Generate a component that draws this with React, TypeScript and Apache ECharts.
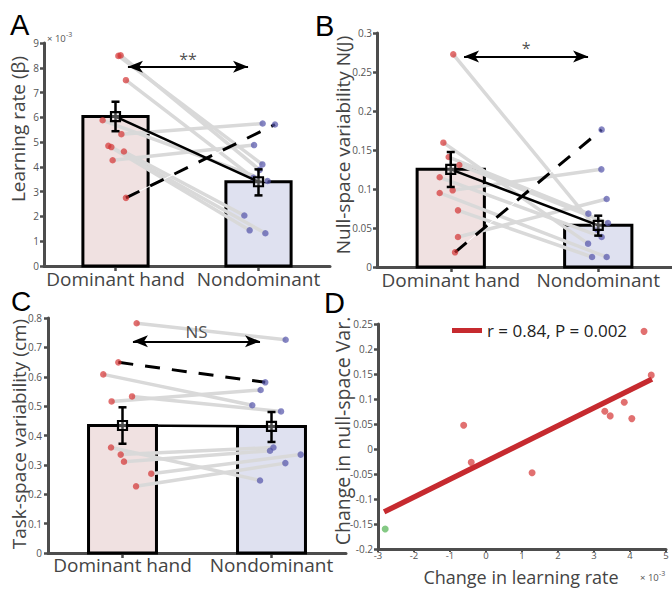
import React, { useEffect, useRef } from 'react';
import * as echarts from 'echarts';

const categories = ['Dominant hand', 'Nondominant'];

// Panel A: learning rate (x10^-3)
const aDomX = [1.020, 1.036, 1.073, 0.910, 1.041, 0.950, 0.971, 1.059, 0.980, 1.073];
const aDomY = [8.48, 8.50, 7.50, 5.88, 5.32, 4.85, 4.80, 4.62, 4.27, 2.75];
const aNonX = [2.027, 2.008, 1.964, 2.064, 2.029, 1.938, 2.048, 1.901, 1.969, 2.115];
const aNonY = [4.10, 3.88, 3.56, 3.43, 5.75, 1.44, 1.32, 2.04, 4.88, 5.71];
const aMeans = [6.03, 3.40];
const aErrLow = [5.44, 2.85];
const aErrHigh = [6.63, 3.90];
const aDashed = 9;
const aArrow = [1.087, 1.927, 8.04];
const aSig = '**';

// Panel B: null-space variability N(J)
const bDomX = [1.017, 0.950, 0.986, 1.058, 0.925, 1.013, 0.925, 1.049, 1.049, 1.029];
const bDomY = [0.2726, 0.1594, 0.1410, 0.1308, 0.1150, 0.0983, 0.0949, 0.0726, 0.0385, 0.0188];
const bNonX = [1.994, 1.931, 1.933, 2.066, 2.023, 2.021, 2.057, 1.958, 2.057, 2.023];
const bNonY = [0.0479, 0.0299, 0.0684, 0.0564, 0.0385, 0.1252, 0.0128, 0.0128, 0.0872, 0.1761];
const bMeans = [0.1252, 0.0534];
const bErrLow = [0.1026, 0.0402];
const bErrHigh = [0.1474, 0.0658];
const bDashed = 9;
const bArrow = [1.090, 1.931, 0.27];
const bSig = '*';

// Panel C: task-space variability (cm)
const cDomX = [1.095, 0.972, 0.871, 0.927, 1.064, 0.923, 0.988, 1.010, 1.193, 1.091];
const cDomY = [0.782, 0.649, 0.608, 0.516, 0.533, 0.359, 0.335, 0.311, 0.270, 0.227];
const cNonX = [2.095, 1.958, 1.871, 1.927, 2.064, 1.923, 2.013, 1.990, 2.196, 2.093];
const cNonY = [0.726, 0.581, 0.503, 0.555, 0.482, 0.247, 0.359, 0.348, 0.335, 0.306];
const cMeans = [0.434, 0.431];
const cErrLow = [0.372, 0.378];
const cErrHigh = [0.496, 0.480];
const cDashed = 1;
const cArrow = [1.070, 1.923, 0.7208];
const cSig = 'NS';

// Panel D: change in learning rate (x10^-3) vs change in null-space var.
const dRedX = [-0.62, -0.41, 1.28, 3.30, 3.45, 3.84, 4.05, 4.59, 4.39];
const dRedY = [0.0475, -0.0267, -0.0475, 0.0755, 0.0662, 0.0936, 0.0608, 0.1477, 0.2353];
const dGreenX = [-2.80];
const dGreenY = [-0.160];
const dFitX = [-2.83, 4.61];
const dFitY = [-0.1257, 0.1397];
const dLegend = 'r = 0.84, P = 0.002';

const FONT = "'Open Sans', 'Noto Sans', sans-serif";
const LETTER_FONT = "'Liberation Sans', Arial, sans-serif";
const AXIS_COLOR = '#4d4d4d';
const LABEL_COLOR = '#444';
const RED = 'rgba(212, 52, 52, 0.88)';
const BLUE = 'rgba(84, 84, 170, 0.88)';
const BAR_FILLS = ['#f0e1e1', '#dfe1f0'];
const GRAY = '#d9d9d9';

const fmt = (v: number) => String(+Number(v).toFixed(3));

function xCat(g: number, margin: number) {
  return {
    type: 'value', gridIndex: g, min: 0.5, max: 2.5,
    axisLine: { show: true, onZero: false, lineStyle: { color: AXIS_COLOR, width: 3 } },
    axisTick: { show: true, customValues: [1, 2], length: 5, lineStyle: { color: AXIS_COLOR, width: 2.5 } },
    axisLabel: {
      customValues: [1, 2], formatter: (v: number) => categories[Math.round(v) - 1],
      fontSize: 19, color: LABEL_COLOR, fontFamily: FONT, margin,
    },
    splitLine: { show: false },
  };
}

function yVal(g: number, min: number, max: number, step: number, margin: number) {
  return {
    type: 'value', gridIndex: g, min, max, interval: step,
    axisLine: { show: true, onZero: false, lineStyle: { color: AXIS_COLOR, width: 3 } },
    axisTick: { show: true, length: 4, lineStyle: { color: AXIS_COLOR, width: 2.5 } },
    axisLabel: { fontSize: 10, color: '#555', fontFamily: FONT, margin, formatter: fmt },
    splitLine: { show: false },
  };
}

function barPanel(g: number, domX: number[], domY: number[], nonX: number[], nonY: number[], dashed: number,
  means: number[], lo: number[], hi: number[], arrow: number[], sig: string, sigSize: number, sigDist: number) {
  const ax = { xAxisIndex: g, yAxisIndex: g };
  const series: any[] = [];
  series.push({
    type: 'custom', ...ax, z: 1, silent: true,
    data: means.map((m, i) => [i + 1, m]),
    encode: { x: 0, y: 1 },
    renderItem: (params: any, api: any) => {
      const x = api.value(0);
      const y = api.value(1);
      const p0 = api.coord([x - 0.228, y]);
      const p1 = api.coord([x + 0.228, 0]);
      return {
        type: 'rect',
        shape: { x: p0[0], y: p0[1], width: p1[0] - p0[0], height: p1[1] - p0[1] },
        style: { fill: BAR_FILLS[params.dataIndex], stroke: '#000', lineWidth: 3 },
      };
    },
  });
  domX.forEach((x, i) => {
    const pair = [[x, domY[i]], [nonX[i], nonY[i]]];
    if (i === dashed) {
      series.push({ type: 'line', ...ax, z: 2, silent: true, data: pair, symbol: 'none', lineStyle: { color: '#fff', width: 1 } });
      series.push({ type: 'line', ...ax, z: 2, silent: true, data: pair, symbol: 'none', lineStyle: { color: '#000', width: 3, type: [15, 12] } });
    } else {
      series.push({ type: 'line', ...ax, z: 2, silent: true, data: pair, symbol: 'none', lineStyle: { color: GRAY, width: 3.5 } });
    }
  });
  series.push({ type: 'scatter', ...ax, z: 3, silent: true, symbolSize: 6.5, itemStyle: { color: RED }, data: domX.map((x, i) => [x, domY[i]]) });
  series.push({ type: 'scatter', ...ax, z: 3, silent: true, symbolSize: 6.5, itemStyle: { color: BLUE }, data: nonX.map((x, i) => [x, nonY[i]]) });
  series.push({
    type: 'line', ...ax, z: 4, silent: true, symbol: 'none',
    data: means.map((m, i) => [i + 1, m]),
    lineStyle: { color: '#000', width: 2.5 },
    markLine: {
      silent: true, symbol: ['arrow', 'arrow'], symbolSize: [9, 15],
      lineStyle: { color: '#000', width: 2, type: 'solid' },
      label: { show: false },
      emphasis: { disabled: true },
      data: [[{ coord: [arrow[0], arrow[2]] }, { coord: [arrow[1], arrow[2]] }]],
    },
  });
  // significance label placed at the arrow's midpoint through the axes
  series.push({
    type: 'scatter', ...ax, z: 4, silent: true, symbolSize: 0,
    data: [[(arrow[0] + arrow[1]) / 2, arrow[2]]],
    label: { show: true, position: 'top', distance: sigDist, formatter: sig, color: '#222', fontSize: sigSize, fontFamily: FONT },
  });
  series.push({
    type: 'custom', ...ax, z: 5, silent: true,
    data: means.map((m, i) => [i + 1, m, lo[i], hi[i]]),
    encode: { x: 0, y: 1 },
    renderItem: (params: any, api: any) => {
      const x = api.value(0);
      const pm = api.coord([x, api.value(1)]);
      const pl = api.coord([x, api.value(2)]);
      const ph = api.coord([x, api.value(3)]);
      const cap = 4;
      const s = 4.5;
      const st = { stroke: '#000', lineWidth: 2.5 };
      return {
        type: 'group',
        children: [
          { type: 'line', shape: { x1: pm[0], y1: pl[1], x2: pm[0], y2: ph[1] }, style: st },
          { type: 'line', shape: { x1: pm[0] - cap, y1: pl[1], x2: pm[0] + cap, y2: pl[1] }, style: st },
          { type: 'line', shape: { x1: pm[0] - cap, y1: ph[1], x2: pm[0] + cap, y2: ph[1] }, style: st },
          { type: 'rect', shape: { x: pm[0] - s, y: pm[1] - s, width: 2 * s, height: 2 * s }, style: { fill: 'rgba(255,255,255,0.3)', stroke: '#000', lineWidth: 2.2 } },
        ],
      };
    },
  });
  return series;
}

function vText(text: string, x: number, y: number, size: number) {
  return {
    type: 'text', x, y, rotation: Math.PI / 2, silent: true,
    style: { text, fill: LABEL_COLOR, font: `${size}px ${FONT}`, align: 'center', verticalAlign: 'middle' },
  };
}
function hText(text: string, x: number, y: number, size: number, color: string, family: string, align = 'left') {
  return {
    type: 'text', x, y, silent: true,
    style: { text, fill: color, font: `${size}px ${family}`, align, verticalAlign: 'middle' },
  };
}

export default function App() {
  const ref = useRef<HTMLDivElement>(null);
  useEffect(() => {
    if (!ref.current) return;
    const chart = echarts.init(ref.current, null, { renderer: 'svg', width: 672, height: 589 });
    const series = [
      ...barPanel(0, aDomX, aDomY, aNonX, aNonY, aDashed, aMeans, aErrLow, aErrHigh, aArrow, aSig, 16, 0),
      ...barPanel(1, bDomX, bDomY, bNonX, bNonY, bDashed, bMeans, bErrLow, bErrHigh, bArrow, bSig, 16, 0),
      ...barPanel(2, cDomX, cDomY, cNonX, cNonY, cDashed, cMeans, cErrLow, cErrHigh, cArrow, cSig, 17, 1),
      {
        type: 'line', name: dLegend, xAxisIndex: 3, yAxisIndex: 3, z: 2, silent: true, symbol: 'none',
        data: dFitX.map((x, i) => [x, dFitY[i]]),
        lineStyle: { color: '#c62a2f', width: 5.5 }, itemStyle: { color: '#c62a2f' },
      },
      { type: 'scatter', xAxisIndex: 3, yAxisIndex: 3, z: 3, silent: true, symbolSize: 7, itemStyle: { color: RED }, data: dRedX.map((x, i) => [x, dRedY[i]]) },
      { type: 'scatter', xAxisIndex: 3, yAxisIndex: 3, z: 3, silent: true, symbolSize: 7, itemStyle: { color: 'rgba(84, 180, 84, 0.9)' }, data: dGreenX.map((x, i) => [x, dGreenY[i]]) },
    ];
    const option: any = {
      animation: false,
      backgroundColor: '#fff',
      textStyle: { fontFamily: FONT },
      grid: [
        { left: 44, top: 43, width: 286, height: 223 },
        { left: 377, top: 33, width: 295, height: 234 },
        { left: 48, top: 318, width: 298, height: 235 },
        { left: 378, top: 324, width: 288, height: 225 },
      ],
      xAxis: [
        xCat(0, 3), xCat(1, 3), xCat(2, 2),
        {
          type: 'value', gridIndex: 3, min: -3, max: 5, interval: 1,
          axisLine: { show: true, onZero: false, lineStyle: { color: AXIS_COLOR, width: 3 } },
          axisTick: { show: true, length: 3, lineStyle: { color: AXIS_COLOR, width: 2 } },
          axisLabel: { fontSize: 9.5, color: '#555', fontFamily: FONT, margin: 1, formatter: fmt },
          splitLine: { show: false },
        },
      ],
      yAxis: [
        yVal(0, 0, 9, 1, 5), yVal(1, 0, 0.3, 0.05, 5), yVal(2, 0, 0.8, 0.1, 6), yVal(3, -0.2, 0.25, 0.05, 5),
      ],
      legend: {
        show: true, data: [dLegend], left: 452, top: 322, padding: 0,
        icon: 'rect', itemWidth: 30, itemHeight: 5, itemGap: 5, selectedMode: false,
        textStyle: { fontSize: 17, color: '#222', fontFamily: FONT },
      },
      graphic: [
        hText('A', 10, 25, 29, '#000', LETTER_FONT),
        hText('B', 315, 26, 29, '#000', LETTER_FONT),
        hText('C', 11, 301, 28, '#000', LETTER_FONT),
        hText('D', 324, 303, 29, '#000', LETTER_FONT),
        vText('Learning rate (β)', 18, 129, 19),
        vText('Null-space variability N(J)', 343, 145, 19),
        vText('Task-space variability (cm)', 19, 434, 19),
        vText('Change in null-space Var.', 342, 431, 19.5),
        hText('Change in learning rate', 521, 576.5, 18, LABEL_COLOR, FONT, 'center'),
        hText('× 10', 640, 577, 9.5, '#555', FONT),
        hText('-3', 659, 573, 7, '#555', FONT),
        hText('× 10', 47, 38, 9.5, '#555', FONT),
        hText('-3', 66, 34, 7, '#555', FONT),
      ],
      series,
    };
    chart.setOption(option);
    return () => chart.dispose();
  }, []);
  return <div ref={ref} style={{ position: 'absolute', left: 0, top: 0, width: 672, height: 589 }} />;
}
